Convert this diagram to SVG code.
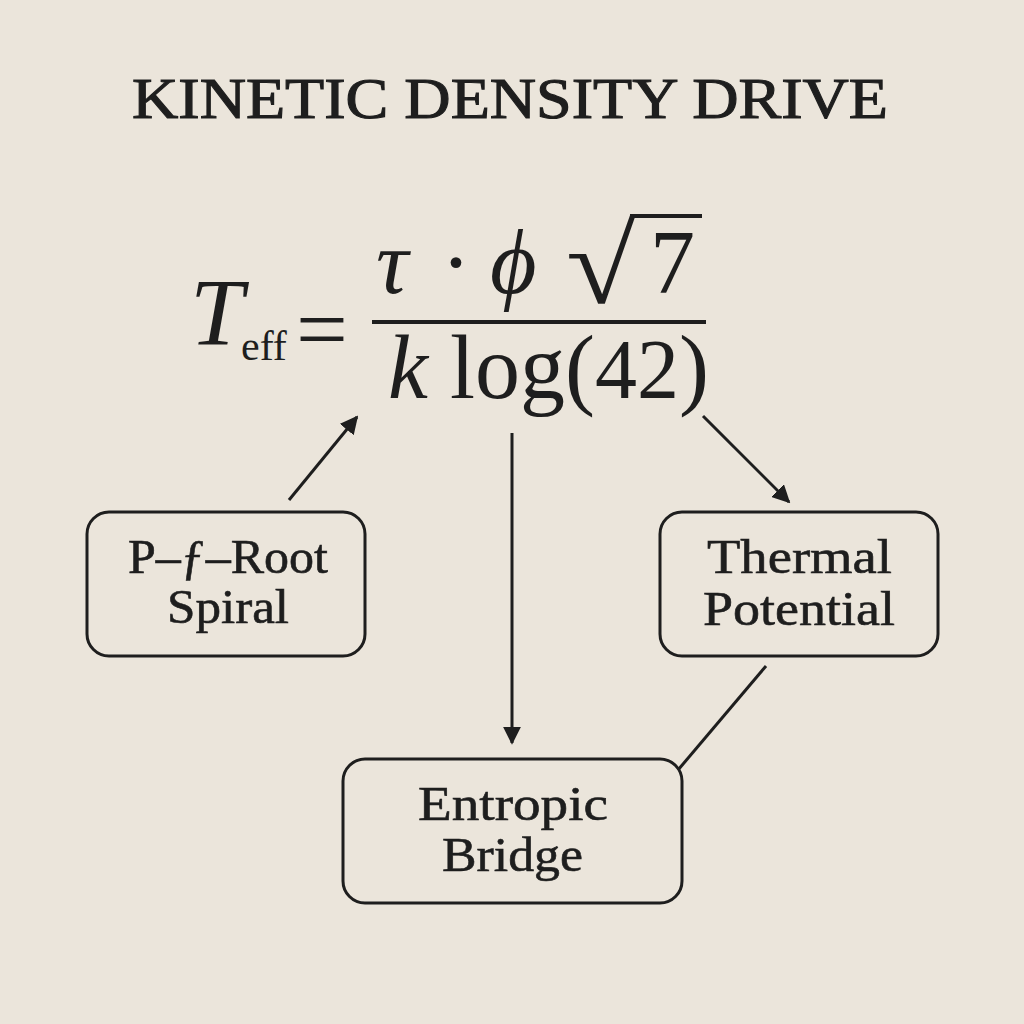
<svg xmlns="http://www.w3.org/2000/svg" width="1024" height="1024" viewBox="0 0 1024 1024">
<defs>
<style>
.serif{font-family:"Liberation Serif","Times New Roman",serif;fill:#1e1e1e}
.box{fill:none;stroke:#1e1e1e;stroke-width:3}
.lbl{font-family:"Liberation Serif","Times New Roman",serif;font-size:48px;fill:#1e1e1e;stroke:#1e1e1e;stroke-width:0.6}
.conn{stroke:#1e1e1e;stroke-width:3;fill:none}
</style>
<marker id="ah" viewBox="0 0 10 10" refX="9" refY="5" markerWidth="6" markerHeight="6" markerUnits="strokeWidth" orient="auto">
<path d="M0,0 L10,5 L0,10 z" fill="#1e1e1e"/>
</marker>
</defs>
<rect width="1024" height="1024" fill="#ebe5db"/>
<text class="serif" x="132" y="118" font-size="58" stroke="#1e1e1e" stroke-width="1.1" textLength="756" lengthAdjust="spacingAndGlyphs">KINETIC DENSITY DRIVE</text>
<g id="formula">
<text class="serif" x="190" y="345" font-size="96" font-style="italic">T</text>
<text class="serif" x="241" y="360" font-size="42">eff</text>
<text class="serif" x="296" y="360" font-size="92">=</text>
<text class="serif" x="376" y="293" font-size="90"><tspan font-style="italic">τ</tspan><tspan x="441">·</tspan><tspan x="490" font-style="italic">ϕ</tspan></text>
<text class="serif" x="566" y="303" font-size="112" textLength="70" lengthAdjust="spacingAndGlyphs">√</text>
<text class="serif" x="650" y="293" font-size="90">7</text>
<line x1="630" y1="216" x2="702" y2="216" stroke="#1e1e1e" stroke-width="4"/>
<line x1="372" y1="322" x2="706" y2="322" stroke="#1e1e1e" stroke-width="4"/>
<text class="serif" x="388" y="398" font-size="90"><tspan font-style="italic">k</tspan><tspan x="450">log</tspan><tspan x="565">(</tspan><tspan x="595" font-size="84">42</tspan><tspan x="679">)</tspan></text>
</g>
<g id="connectors">
<line class="conn" x1="289" y1="500" x2="357" y2="417" marker-end="url(#ah)"/>
<line class="conn" x1="703" y1="416" x2="789" y2="502" marker-end="url(#ah)"/>
<line class="conn" x1="512" y1="433" x2="512" y2="743" marker-end="url(#ah)"/>
<line class="conn" x1="766" y1="666" x2="678" y2="770"/>
</g>
<g id="node-pf-root">
<rect class="box" x="87" y="512" width="278" height="144" rx="22"/>
<text class="lbl"><tspan x="128" y="573" textLength="200" lengthAdjust="spacingAndGlyphs">P–ƒ–Root</tspan><tspan x="167" y="623" textLength="122" lengthAdjust="spacingAndGlyphs">Spiral</tspan></text>
</g>
<g id="node-thermal">
<rect class="box" x="660" y="512" width="278" height="144" rx="22"/>
<text class="lbl"><tspan x="707" y="573" textLength="185" lengthAdjust="spacingAndGlyphs">Thermal</tspan><tspan x="703" y="625" textLength="192" lengthAdjust="spacingAndGlyphs">Potential</tspan></text>
</g>
<g id="node-entropic">
<rect class="box" x="343" y="759" width="339" height="144" rx="22"/>
<text class="lbl"><tspan x="418" y="820" textLength="190" lengthAdjust="spacingAndGlyphs">Entropic</tspan><tspan x="442" y="871" textLength="141" lengthAdjust="spacingAndGlyphs">Bridge</tspan></text>
</g>
</svg>
